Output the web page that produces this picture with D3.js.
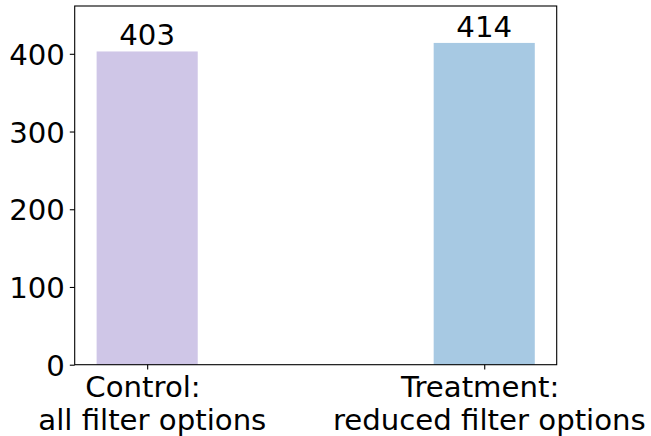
<!DOCTYPE html>
<html>
<head>
<meta charset="utf-8">
<script src="https://cdn.jsdelivr.net/npm/d3@7"></script>
<style>
  html, body { margin: 0; padding: 0; background: #fff; }
  svg { display: block; }
  text { font-family: "DejaVu Sans", sans-serif; fill: #000; white-space: pre; }
</style>
</head>
<body>
<svg id="chart" width="651" height="436"></svg>
<script>
// Data
const categories = ["control", "treatment"];
const categoryLabels = [["Control: ", " all filter options"], ["Treatment: ", " reduced filter options"]];
const values = [403, 414];
const barColors = ["#cfc6e7", "#a7c9e3"];
const yTicks = [0, 100, 200, 300, 400];

const W = 651, H = 436;
const plot = { left: 74.7, right: 556.7, top: 6, bottom: 364.7 };
const fontSize = 29.2;

const svg = d3.select("#chart");

const x = d3.scalePoint()
  .domain(categories)
  .range([plot.left, plot.right])
  .padding(0.215);
const barWidth = x.step() * 0.3;

const y = d3.scaleLinear()
  .domain([0, 461.5])
  .range([plot.bottom, plot.top]);

// Bars
svg.append("g").selectAll("rect")
  .data(categories)
  .join("rect")
  .attr("x", (d) => x(d) - barWidth / 2)
  .attr("y", (d, i) => y(values[i]))
  .attr("width", barWidth)
  .attr("height", (d, i) => y(0) - y(values[i]))
  .attr("fill", (d, i) => barColors[i]);

// Bar value labels
svg.append("g").selectAll("text")
  .data(categories)
  .join("text")
  .attr("x", (d) => x(d))
  .attr("y", (d, i) => y(values[i]) - 6)
  .attr("text-anchor", "middle")
  .style("font-size", fontSize + "px")
  .text((d, i) => values[i]);

// Y axis
const yAxis = d3.axisLeft(y)
  .tickValues(yTicks)
  .tickSize(4.9)
  .tickPadding(4.9)
  .tickFormat(d3.format("d"));
const gy = svg.append("g")
  .attr("transform", `translate(${plot.left},0)`)
  .call(yAxis);
gy.select(".domain").remove();
gy.selectAll(".tick line").attr("stroke", "#000").attr("stroke-width", 1.1);
gy.selectAll(".tick text")
  .style("font-size", fontSize + "px")
  .style("font-family", '"DejaVu Sans", sans-serif')
  .attr("fill", "#000")
  .attr("dy", "0.36em");

// X axis
const xAxis = d3.axisBottom(x).tickSize(4.9).tickFormat("");
const gx = svg.append("g")
  .attr("transform", `translate(0,${plot.bottom})`)
  .call(xAxis);
gx.select(".domain").remove();
gx.selectAll(".tick line").attr("stroke", "#000").attr("stroke-width", 1.1);
gx.selectAll(".tick").each(function (d, i) {
  const t = d3.select(this).append("text")
    .attr("text-anchor", "middle")
    .style("font-size", fontSize + "px")
    .attr("fill", "#000");
  categoryLabels[i].forEach((line, j) => {
    t.append("tspan")
      .attr("x", 0)
      .attr("y", 32.6 + j * 32.7)
      .text(line);
  });
});

// Frame
svg.append("rect")
  .attr("x", plot.left)
  .attr("y", plot.top)
  .attr("width", plot.right - plot.left)
  .attr("height", plot.bottom - plot.top)
  .attr("fill", "none")
  .attr("stroke", "#000")
  .attr("stroke-width", 1.1);
</script>
</body>
</html>
